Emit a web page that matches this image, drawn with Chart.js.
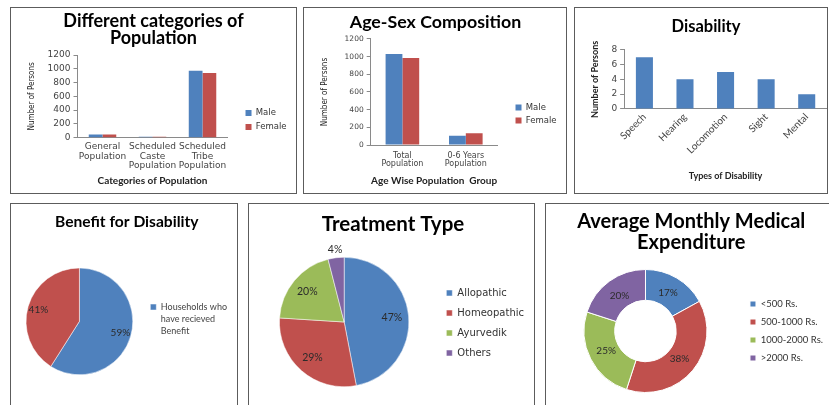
<!DOCTYPE html>
<html>
<head>
<meta charset="utf-8">
<script src="https://cdn.jsdelivr.net/npm/chart.js@4.4.0/dist/chart.umd.min.js"></script>
<style>
  html, body { margin: 0; padding: 0; background: #fff; }
  body { width: 829px; height: 405px; overflow: hidden; position: relative; }
  .panel { position: absolute; box-sizing: border-box; border: 1px solid #5c5c5c; background: #fff; }
  .panel .inner { position: relative; width: 100%; height: 100%; }
</style>
</head>
<body>
<div class="panel" style="left:10px; top:7px; width:287px; height:187px;"><div class="inner"><canvas id="popChart"></canvas></div></div>
<div class="panel" style="left:303px; top:7px; width:264px; height:187px;"><div class="inner"><canvas id="ageChart"></canvas></div></div>
<div class="panel" style="left:574px; top:7px; width:254px; height:187px;"><div class="inner"><canvas id="disChart"></canvas></div></div>
<div class="panel" style="left:10px; top:203px; width:228px; height:215px;"><div class="inner"><canvas id="benefitChart"></canvas></div></div>
<div class="panel" style="left:248px; top:203px; width:287px; height:215px;"><div class="inner"><canvas id="treatChart"></canvas></div></div>
<div class="panel" style="left:545px; top:203px; width:300px; height:215px;"><div class="inner"><canvas id="expChart"></canvas></div></div>

<script>
// population by category
const popCategories = [['General', 'Population'], ['Scheduled', 'Caste', 'Population'], ['Scheduled', 'Tribe', 'Population']];
const popMale = [45, 12, 970];
const popFemale = [45, 12, 940];

// age-sex composition
const ageGroups = [['Total', 'Population'], ['0-6 Years', 'Population']];
const ageMale = [1030, 105];
const ageFemale = [985, 132];

// disability
const disabilityTypes = ['Speech', 'Hearing', 'Locomotion', 'Sight', 'Mental'];
const disabilityCounts = [7, 4, 5, 4, 2];

// pies (percent)
const benefitLabels = [['Households who', 'have recieved', 'Benefit'], 'Not recieved'];
const benefitShares = [59, 41];
const treatmentTypes = ['Allopathic', 'Homeopathic', 'Ayurvedik', 'Others'];
const treatmentShares = [47, 29, 20, 4];
const expenseRanges = ['<500 Rs.', '500-1000 Rs.', '1000-2000 Rs.', '>2000 Rs.'];
const expenseShares = [17, 38, 25, 20];

const BLUE = '#4F81BD', RED = '#C0504D', GREEN = '#9BBB59', PURPLE = '#8064A2';
const AXIS = '#8a8a8a';
const TITLE_FONT = 'Lato, "Open Sans", sans-serif';
const TICK_FONT = '"DejaVu Sans", Verdana, sans-serif';
const NARROW_FONT = '"Liberation Sans Narrow", "DejaVu Sans Condensed", sans-serif';

Chart.defaults.animation = false;
Chart.defaults.color = '#333';
Chart.defaults.plugins.tooltip.enabled = false;

// percent labels on pie / doughnut slices
const sliceLabels = {
  id: 'sliceLabels',
  afterDatasetsDraw(chart, args, opts) {
    const ctx = chart.ctx;
    const meta = chart.getDatasetMeta(0);
    const data = chart.data.datasets[0].data;
    ctx.save();
    ctx.font = opts.font || '10px Lato';
    ctx.fillStyle = opts.color || '#222';
    ctx.textAlign = 'center';
    ctx.textBaseline = 'middle';
    meta.data.forEach((arc, i) => {
      const p = arc.getProps(['x', 'y', 'startAngle', 'endAngle', 'innerRadius', 'outerRadius'], true);
      const mid = (p.startAngle + p.endAngle) / 2;
      let r;
      if (p.innerRadius > 0) r = (p.innerRadius + p.outerRadius) / 2 - 2;
      else if (data[i] < 5) r = p.outerRadius * 1.12;
      else r = p.outerRadius * (opts.inset || 0.75);
      ctx.fillText(data[i] + '%', p.x + Math.cos(mid) * r, p.y + Math.sin(mid) * r);
    });
    ctx.restore();
  }
};

// moves the legend box after layout (gap from the plot, vertical placement)
const legendNudge = {
  id: 'legendNudge',
  afterLayout(chart, args, opts) {
    const lg = chart.legend;
    if (!lg) return;
    const dx = opts.dx || 0, dy = opts.dy || 0;
    lg.left += dx; lg.right += dx;
    lg.top += dy; lg.bottom += dy;
  }
};
Chart.register(legendNudge);

function barAxes(cfg) {
  return {
    x: {
      grid: { display: false, drawTicks: false },
      border: { display: true, color: AXIS },
      ticks: {
        font: cfg.xTickFont,
        color: '#444',
        autoSkip: false,
        maxRotation: cfg.xRotate || 0, minRotation: cfg.xRotate || 0,
        padding: cfg.xTickPad
      },
      title: { display: true, text: cfg.xTitle, color: '#222', font: { family: TITLE_FONT, size: cfg.xTitleSize, weight: 'bold' }, padding: { top: cfg.xTitlePad, bottom: 0 } }
    },
    y: {
      min: 0, max: cfg.yMax,
      grid: { drawOnChartArea: false, drawTicks: true, tickLength: 4, color: AXIS },
      border: { display: true, color: AXIS },
      ticks: { stepSize: cfg.yStep, autoSkip: false, font: { family: TICK_FONT, size: cfg.yTickSize }, color: '#444', padding: 3, callback: v => String(v) },
      title: { display: true, text: 'Number of Persons', color: '#222', font: cfg.yTitleFont, padding: { top: cfg.yTitlePad[0], bottom: cfg.yTitlePad[1] } }
    }
  };
}

// Different categories of Population
new Chart(document.getElementById('popChart'), {
  type: 'bar',
  data: {
    labels: popCategories,
    datasets: [
      { label: 'Male', data: popMale, backgroundColor: BLUE },
      { label: 'Female', data: popFemale, backgroundColor: RED }
    ]
  },
  options: {
    responsive: true, maintainAspectRatio: false,
    datasets: { bar: { categoryPercentage: 0.55, barPercentage: 1 } },
    layout: { padding: { left: 12, right: 12, top: 0, bottom: 6 } },
    scales: barAxes({
      yMax: 1200, yStep: 200, yTickSize: 9, yTitleFont: { family: NARROW_FONT, size: 8 }, yTitlePad: [4, 8],
      xTitle: 'Categories of Population', xTitleSize: 10, xTitlePad: 0,
      xTickFont: { family: TICK_FONT, size: 9, lineHeight: 1.05 }, xTickPad: 4.5
    }),
    plugins: {
      title: { display: true, text: ['Different categories of', 'Population'], color: '#000', font: { family: TITLE_FONT, size: 18, weight: 'bold', lineHeight: 0.95 }, padding: { top: 4.5, bottom: 8.3 } },
      legend: { position: 'right', labels: { font: { family: TICK_FONT, size: 8.5 }, color: '#333', boxWidth: 6, boxHeight: 6, padding: 5.5 } },
      legendNudge: { dx: 12.5, dy: 22.5 }
    }
  }
});

// Age-Sex Composition
new Chart(document.getElementById('ageChart'), {
  type: 'bar',
  data: {
    labels: ageGroups,
    datasets: [
      { label: 'Male', data: ageMale, backgroundColor: BLUE },
      { label: 'Female', data: ageFemale, backgroundColor: RED }
    ]
  },
  options: {
    responsive: true, maintainAspectRatio: false,
    datasets: { bar: { categoryPercentage: 0.53, barPercentage: 1 } },
    layout: { padding: { left: 14, right: 13, top: 0, bottom: 6 } },
    scales: barAxes({
      yMax: 1200, yStep: 200, yTickSize: 7.5, yTitleFont: { family: NARROW_FONT, size: 8 }, yTitlePad: [2, 12],
      xTitle: 'Age Wise Population  Group', xTitleSize: 10, xTitlePad: 0,
      xTickFont: { family: TICK_FONT, size: 8, lineHeight: 1.05 }, xTickPad: 6.6
    }),
    plugins: {
      title: { display: true, text: 'Age-Sex Composition', color: '#000', font: { family: TITLE_FONT, size: 17.8, weight: 'bold' }, padding: { top: 3.3, bottom: 6.3 } },
      legend: { position: 'right', labels: { font: { family: TICK_FONT, size: 8.5 }, color: '#333', boxWidth: 6, boxHeight: 6, padding: 4.5 } },
      legendNudge: { dx: 13.5, dy: 16.5 }
    }
  }
});

// Disability
new Chart(document.getElementById('disChart'), {
  type: 'bar',
  data: {
    labels: disabilityTypes,
    datasets: [{ label: 'Persons', data: disabilityCounts, backgroundColor: BLUE }]
  },
  options: {
    responsive: true, maintainAspectRatio: false,
    datasets: { bar: { categoryPercentage: 0.42, barPercentage: 1 } },
    layout: { padding: { left: 10, right: 0, top: 0, bottom: 12 } },
    scales: barAxes({
      yMax: 8, yStep: 2, yTickSize: 9, yTitleFont: { family: TITLE_FONT, size: 9, weight: 'bold' }, yTitlePad: [4.6, 8],
      xTitle: 'Types of Disability', xTitleSize: 9, xTitlePad: 12, xRotate: 45,
      xTickFont: { family: TITLE_FONT, size: 10 }, xTickPad: 2
    }),
    plugins: {
      title: { display: true, text: 'Disability', color: '#000', font: { family: TITLE_FONT, size: 16.5, weight: 'bold' }, padding: { top: 9, bottom: 13 } },
      legend: { display: false }
    }
  }
});

// Benefit for Disability
new Chart(document.getElementById('benefitChart'), {
  type: 'pie',
  plugins: [sliceLabels],
  data: {
    labels: benefitLabels,
    datasets: [{ data: benefitShares, backgroundColor: [BLUE, RED], borderColor: '#fff', borderWidth: 0.5 }]
  },
  options: {
    responsive: true, maintainAspectRatio: false,
    layout: { padding: { left: 5.5, right: 0, top: 0, bottom: 42 } },
    plugins: {
      title: { display: true, text: 'Benefit for Disability', color: '#000', font: { family: TITLE_FONT, size: 15.6, weight: 'bold' }, padding: { top: 9, bottom: 36 } },
      legend: {
        position: 'right',
        labels: {
          font: { family: TITLE_FONT, size: 9, lineHeight: 1.33 }, color: '#444', boxWidth: 6, boxHeight: 6, padding: 8,
          filter: item => item.index === 0
        }
      },
      legendNudge: { dy: 31 },
      sliceLabels: { font: '10px Lato', color: '#2b2b2b', inset: 0.8 }
    }
  }
});

// Treatment Type
new Chart(document.getElementById('treatChart'), {
  type: 'pie',
  plugins: [sliceLabels],
  data: {
    labels: treatmentTypes,
    datasets: [{ data: treatmentShares, backgroundColor: [BLUE, RED, GREEN, PURPLE], borderColor: '#fff', borderWidth: 0.5 }]
  },
  options: {
    responsive: true, maintainAspectRatio: false,
    layout: { padding: { left: 3, right: 0, top: 0, bottom: 30 } },
    plugins: {
      title: { display: true, text: 'Treatment Type', color: '#000', font: { family: TITLE_FONT, size: 20.5, weight: 'bold' }, padding: { top: 7.7, bottom: 20.7 } },
      legend: { position: 'right', labels: { font: { family: TICK_FONT, size: 10 }, color: '#333', boxWidth: 6, boxHeight: 6, padding: 10 } },
      legendNudge: { dy: 27.5 },
      sliceLabels: { font: '10.5px Lato', color: '#2b2b2b', inset: 0.74 }
    }
  }
});

// Average Monthly Medical Expenditure
new Chart(document.getElementById('expChart'), {
  type: 'doughnut',
  plugins: [sliceLabels],
  data: {
    labels: expenseRanges,
    datasets: [{ data: expenseShares, backgroundColor: [BLUE, RED, GREEN, PURPLE], borderColor: '#fff', borderWidth: 1 }]
  },
  options: {
    responsive: true, maintainAspectRatio: false,
    cutout: '50%',
    layout: { padding: { left: 3.5, right: 11, top: 0, bottom: 24 } },
    plugins: {
      title: { display: true, text: ['Average Monthly Medical', 'Expenditure'], color: '#000', font: { family: TITLE_FONT, size: 20, weight: 'bold', lineHeight: 1.05 }, padding: { top: 7.5, bottom: 15.5 } },
      legend: { position: 'right', labels: { font: { family: TITLE_FONT, size: 9.5 }, color: '#333', boxWidth: 6, boxHeight: 6, padding: 8.5 } },
      legendNudge: { dy: 32.5 },
      sliceLabels: { font: '10px Lato', color: '#2b2b2b' }
    }
  }
});
</script>
</body>
</html>
